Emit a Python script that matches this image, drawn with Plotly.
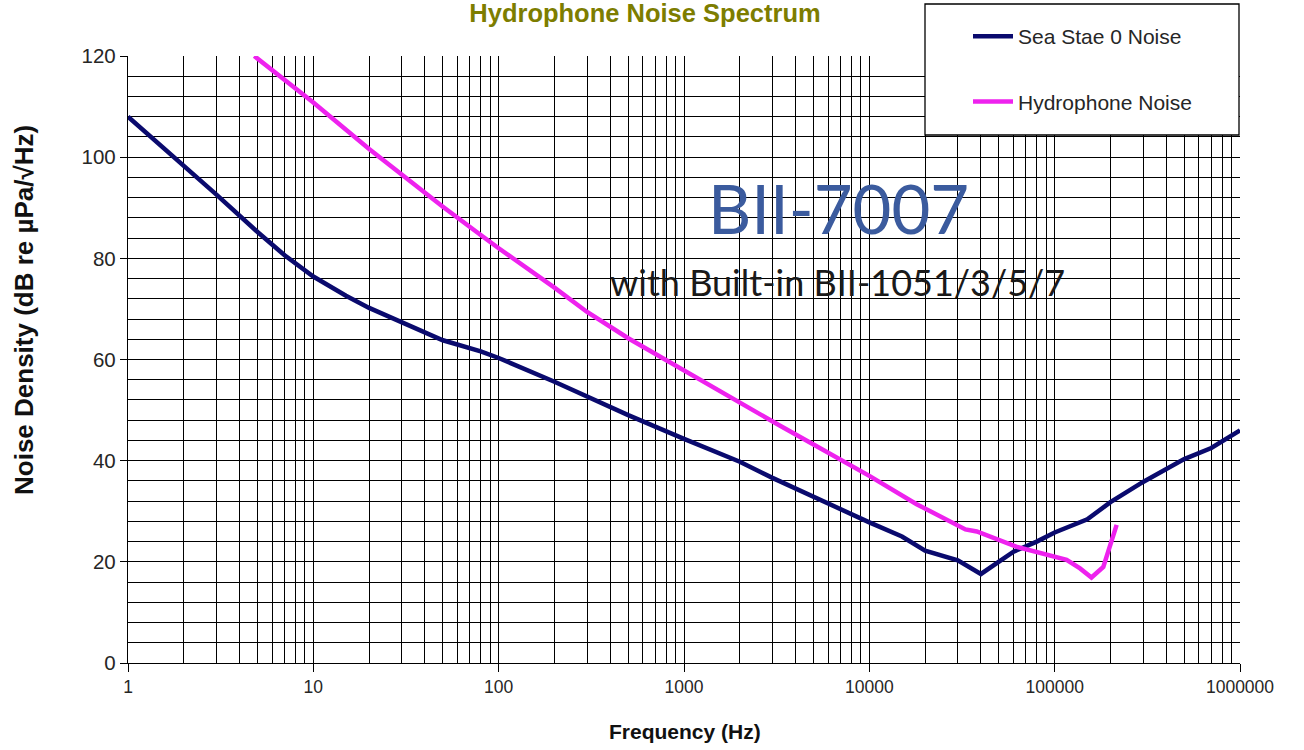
import plotly.graph_objects as go

# ---- data ----
sea_freq = [1, 2, 3, 5, 7, 10, 15, 20, 30, 50, 80, 100, 200, 300, 500, 1000, 2000, 3000,
            5000, 7000, 10000, 15000, 20000, 30000, 40000, 60000, 80000, 100000, 150000,
            200000, 300000, 500000, 700000, 1000000]
sea_noise = [108, 98.4, 92.6, 85.2, 80.6, 76.4, 72.6, 70.2, 67.3, 63.8, 61.6, 60.3, 55.6,
             52.6, 49.0, 44.3, 39.8, 36.6, 32.8, 30.3, 27.8, 25.0, 22.2, 20.3, 17.6, 22,
             24, 25.8, 28.4, 31.8, 35.8, 40.3, 42.5, 46]

hyd_freq = [4.8, 10, 20, 30, 50, 80, 100, 200, 300, 500, 1000, 2000, 3300, 5000, 10000,
            18000, 33000, 38000, 62000, 116000, 137000, 158000, 183000, 216000]
hyd_noise = [120, 110.8, 101.6, 96.5, 90.2, 84.6, 82.0, 74.2, 69.4, 64.2, 57.8, 51.5, 46.9,
             43.2, 37.0, 31.4, 26.4, 26.0, 23, 20.4, 18.7, 16.9, 19, 27.3]

x_tick_vals = [1, 10, 100, 1000, 10000, 100000, 1000000]
x_tick_text = ["1", "10", "100", "1000", "10000", "100000", "1000000"]
x_minor_vals = [m * 10 ** k for k in range(6) for m in range(2, 10)]

title_text = "Hydrophone Noise Spectrum"
x_title = "Frequency (Hz)"
y_title = "Noise Density (dB re µPa/√Hz)"

ARIAL = "Liberation Sans, Arial, sans-serif"
CAL = "Lato, Open Sans, sans-serif"

fig = go.Figure()
fig.add_trace(go.Scatter(x=sea_freq, y=sea_noise, mode="lines", name="Sea Stae 0 Noise",
                         legendgroup="a",
                         line=dict(color="#0a0a6e", width=4.5)))
fig.add_trace(go.Scatter(x=hyd_freq, y=hyd_noise, mode="lines", name="Hydrophone Noise",
                         legendgroup="b",
                         line=dict(color="#ee22ee", width=4.5)))

# page body margin is removed below, so figure pixels == screen pixels
W, H = 1304, 750
PL, PR, PT, PB = 128, 1240, 56, 663          # plot area in screen pixels
L, T = PL, PT
R = W - PR
B = H - PB
pw, ph = PR - PL, PB - PT

def px_x(p):
    return (p - PL) / pw

def px_y(p):
    return (PB - p) / ph

fig.update_layout(
    width=W, height=H,
    margin=dict(l=L, r=R, t=T, b=B),
    paper_bgcolor="white", plot_bgcolor="white",
    showlegend=True,
    legend=dict(x=px_x(968), y=px_y(16), xanchor="left", yanchor="top",
                bgcolor="rgba(0,0,0,0)", borderwidth=0,
                font=dict(family=ARIAL, size=21, color="#262626"),
                tracegroupgap=35, itemwidth=40),
    title=dict(text="<b>" + title_text + "</b>", x=645 / W, xanchor="center",
               y=1 - 4 / H, yanchor="top", pad=dict(t=0, b=0),
               font=dict(family=ARIAL, size=25.5, color="#7d7d00")),
)

fig.update_xaxes(
    type="log", range=[0, 6],
    tickmode="array", tickvals=x_tick_vals, ticktext=x_tick_text,
    tickfont=dict(family=ARIAL, size=17.5, color="#262626"),
    ticks="outside", ticklen=8, tickcolor="black", tickwidth=1,
    showline=True, linecolor="black", linewidth=1.3,
    showgrid=True, gridcolor="black", gridwidth=1.2,
    minor=dict(tickmode="array", tickvals=x_minor_vals, showgrid=True,
               gridcolor="black", gridwidth=1.2, ticks=""),
    zeroline=False,
)
fig.update_yaxes(
    range=[0, 120], tickmode="linear", tick0=0, dtick=20,
    tickfont=dict(family=ARIAL, size=20.5, color="#262626"),
    ticks="outside", ticklen=7, tickcolor="black", tickwidth=1,
    showline=True, linecolor="black", linewidth=1.3,
    showgrid=True, gridcolor="black", gridwidth=1.2,
    minor=dict(dtick=4, showgrid=True, gridcolor="black", gridwidth=1.2, ticks=""),
    zeroline=False,
)

# legend box
fig.add_shape(type="rect", xref="paper", yref="paper",
              x0=px_x(925), x1=px_x(1239), y0=px_y(135), y1=px_y(4),
              fillcolor="white", line=dict(color="black", width=1.3), layer="above")

# axis titles
fig.add_annotation(text="<b>" + y_title + "</b>", xref="paper", yref="paper",
                   x=px_x(24), y=px_y(310), xanchor="center", yanchor="middle",
                   textangle=-90, showarrow=False,
                   font=dict(family=ARIAL, size=26, color="#111111"))
fig.add_annotation(text="<b>" + x_title + "</b>", xref="paper", yref="paper",
                   x=px_x(685), y=px_y(731), xanchor="center", yanchor="middle",
                   showarrow=False,
                   font=dict(family=ARIAL, size=21, color="#111111"))

# watermark texts
fig.add_annotation(text="BII-7007", xref="paper", yref="paper",
                   x=px_x(838), y=px_y(208), xanchor="center", yanchor="middle",
                   showarrow=False,
                   font=dict(family=CAL, size=67, color="#3b5b9e"))
fig.add_annotation(text="with Built-in BII-1051/3/5/7", xref="paper", yref="paper",
                   x=px_x(837), y=px_y(282), xanchor="center", yanchor="middle",
                   showarrow=False,
                   font=dict(family=CAL, size=36, color="#1a1a1a"))

fig.write_html("out.html", config={"displayModeBar": False},
               post_script="document.body.style.margin='0';document.body.style.overflow='hidden';")
